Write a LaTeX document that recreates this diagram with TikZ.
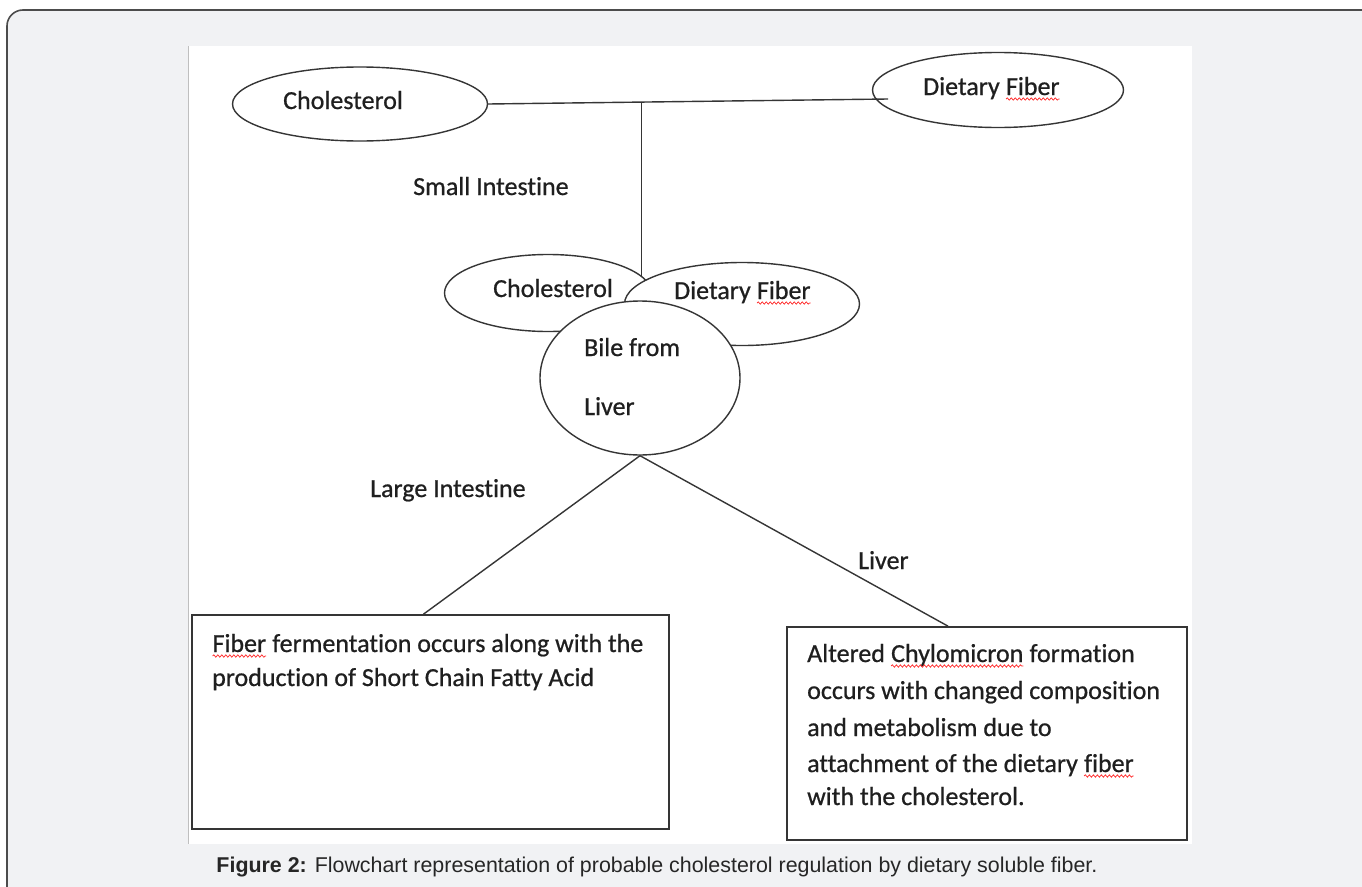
\documentclass[tikz,border=0pt]{standalone}
\usepackage{fontspec}
\setmainfont{Carlito}[Ligatures=NoCommon, FakeBold=0.7]
\newfontfamily\capfont{Liberation Sans}
\usetikzlibrary{shapes.geometric, decorations.pathmorphing}

\definecolor{framegray}{HTML}{F1F2F4}
\definecolor{inkgray}{HTML}{353535}

\newcommand\spellwave[1]{\tikz[baseline=(w.base)]{\node[inner sep=0pt, outer sep=0pt, anchor=base] (w) {#1};
  \draw[red!85, line width=0.7pt, decorate, decoration={snake, amplitude=1.2pt, segment length=4pt}]
    ([yshift=-4pt]w.base west) -- ([yshift=-4pt]w.base east);}}

\tikzset{
  blob/.style={ellipse, draw=inkgray, line width=1.4pt, inner sep=0pt},
  lap/.style={blob, fill=white},
  panel/.style={rectangle, draw=inkgray, line width=1.7pt, inner sep=0pt, fill=white},
  wire/.style={draw=inkgray, line width=1.4pt},
  word/.style={anchor=base west, inner sep=0pt, text=black!88, font=\fontsize{26}{36}\selectfont}
}

\begin{document}
\begin{tikzpicture}[x=1pt, y=-1pt]
    \useasboundingbox (0,0) rectangle (1362,886);
    \clip (0,0) rectangle (1362,886);

    % 枠
    \draw[draw=black!70, line width=1.6pt, fill=framegray, rounded corners=16pt] (7,10) rectangle (1385,905);
    \fill[white] (188,46) rectangle (1192,844);
    \draw[black!25] (188.5,46) -- (188.5,844);

    % 上の楕円
    \node[blob, minimum width=255pt, minimum height=74pt] (chol1) at (360,104) {};
    \node[blob, minimum width=251pt, minimum height=75pt] (fib1) at (998,90) {};

    % 線
    \coordinate (fibin) at (888,99);
    \draw[wire] (chol1.east) -- coordinate[pos=0.384] (tee) (fibin);
    \coordinate (stem) at (641,300);
    \draw[wire] (tee) -- (tee |- stem);

    % 重なる楕円
    \node[lap, minimum width=207pt, minimum height=77pt] (chol2) at (548,293) {};
    \node[lap, minimum width=235pt, minimum height=83pt] (fib2) at (742,304) {};
    \node[lap, minimum width=200pt, minimum height=154pt] (bile) at (640,378) {};

    % 箱
    \node[panel, minimum width=477pt, minimum height=214pt] (lbox) at (430.5,722) {};
    \node[panel, minimum width=400pt, minimum height=213pt] (rbox) at (987,733.5) {};

    \draw[wire] (bile.south) -- ([xshift=-7pt]lbox.north);
    \draw[wire] (bile.south) -- ([xshift=-39pt]rbox.north);

    % 文字
    \node[word] at (283,109) {Cholesterol};
    \node[word] at (923,95) {Dietary \spellwave{Fiber}};
    \node[word] at (413,195) {Small Intestine};
    \node[word] at (493,297) {Cholesterol};
    \node[word] at (674,299) {Dietary \spellwave{Fiber}};
    \node[word] at (584,356) {Bile from};
    \node[word] at (584,415) {Liver};
    \node[word] at (370,497) {Large Intestine};
    \node[word] at (858,569) {Liver};

    \node[word] at (212,652) {\spellwave{Fiber} fermentation occurs along with the};
    \node[word] at (212,686) {production of Short Chain Fatty Acid};

    \node[word] at (807,662) {Altered \spellwave{Chylomicron} formation};
    \node[word] at (807,699) {occurs with changed composition};
    \node[word] at (807,736) {and metabolism due to};
    \node[word] at (807,772) {attachment of the dietary \spellwave{fiber}};
    \node[word] at (807,805) {with the cholesterol.};

    \node[anchor=base, inner sep=0pt, text=black!85, font=\capfont\fontsize{21.4}{24}\selectfont] (cap) at (657,872)
      {\textbf{Figure 2:} Flowchart representation of probable cholesterol regulation by dietary soluble fiber.};
  \end{tikzpicture}
\end{document}
